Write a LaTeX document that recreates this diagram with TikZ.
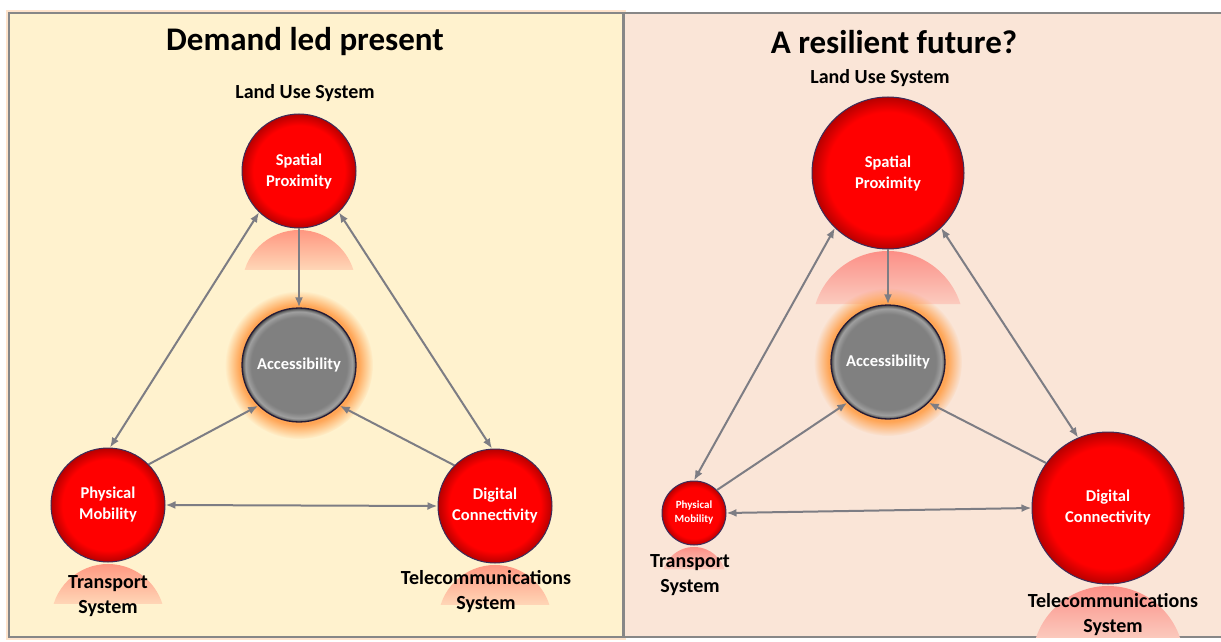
\documentclass[tikz,border=0pt]{standalone}
\usepackage{fontspec}
\setmainfont{Carlito}
\usetikzlibrary{arrows.meta, fadings}

\definecolor{creamL}{RGB}{255,242,206}
\definecolor{peachR}{RGB}{250,229,215}
\definecolor{frame}{RGB}{135,135,135}
\definecolor{linkgray}{RGB}{125,125,132}
\definecolor{rimblue}{RGB}{60,45,90}
\definecolor{ballgray}{RGB}{128,128,128}
\definecolor{glow}{RGB}{255,165,85}

\pgfdeclareradialshading{redball}{\pgfpoint{0bp}{0bp}}{color(0bp)=(red); color(20bp)=(red); color(25bp)=(red!72!black); color(50bp)=(red!72!black)}
\pgfdeclareradialshading{grayball}{\pgfpoint{0bp}{0bp}}{color(0bp)=(ballgray); color(21bp)=(ballgray); color(23.5bp)=(ballgray!75!white); color(25bp)=(ballgray!55!black); color(50bp)=(ballgray!55!black)}

\newcommand{\mirrorcap}[4]{%
  \path[top color=red!42!#4, bottom color=#4]
    (#1,#2) ++(162.54:#3) arc[start angle=162.54, end angle=17.46, radius=#3] -- cycle;}

\tikzset{
  hub/.style={circle, shading=redball, draw=rimblue, line width=1pt, text=white,
    align=center, inner sep=0pt, font=\fontsize{16.5}{21}\selectfont\bfseries},
  access/.style={circle, shading=grayball, draw=rimblue!60!black, line width=1.3pt,
    text=white, inner sep=0pt, minimum size=114pt, font=\fontsize{16.5}{21}\selectfont\bfseries},
  sysname/.style={align=center, font=\fontsize{20}{25}\selectfont\bfseries},
  paneltitle/.style={font=\fontsize{33}{40}\selectfont\bfseries},
  biarrow/.style={draw=linkgray, line width=2pt, {Latex[length=10pt,width=8pt]}-{Latex[length=10pt,width=8pt]}},
  uniarrow/.style={draw=linkgray, line width=2pt, -{Latex[length=10pt,width=8pt]}}
}

\begin{document}
\begin{tikzpicture}[x=1pt, y=1pt]
\useasboundingbox (0,0) rectangle (1221,641);

\draw[glow, line width=6pt, opacity=0.3] (9,4) rectangle (623,628);
\fill[creamL] (9,4) rectangle (623,628);
\fill[peachR] (624,4) rectangle (1225,628);
\draw[frame, line width=2pt] (9,4) rectangle (623,628);
\draw[frame, line width=2pt] (624,4) rectangle (1225,628);

% reflections
\mirrorcap{299}{354}{57}{creamL}
\mirrorcap{108}{20}{57}{creamL}
\mirrorcap{495}{19}{57}{creamL}
\mirrorcap{888}{314}{76}{peachR}
\mirrorcap{694}{62}{32}{peachR}
\begin{scope}
  \clip (624,4) rectangle (1225,628);
  \mirrorcap{1108}{-21}{76}{peachR}
\end{scope}

% halos
\fill[glow, path fading=circle with fuzzy edge 20 percent] (299,276) circle[radius=74];
\fill[glow, path fading=circle with fuzzy edge 20 percent] (888,279) circle[radius=74];

% present
\node[paneltitle] (ttlL) at (305,599) {Demand led present};
\node[sysname] (luL) at (305,548) {Land Use System};
\node[hub, minimum size=114pt] (spL) at (299,470) {Spatial\\Proximity};
\node[access] (acL) at (299,276) {Accessibility};
\node[hub, minimum size=114pt] (pmL) at (108,136) {Physical\\Mobility};
\node[hub, minimum size=114pt] (dcL) at (495,135) {Digital\\Connectivity};
\node[sysname] (tsL) at (108,45) {Transport\\System};
\node[sysname] (tcL) at (486,49) {Telecommunications\\System};

\draw[biarrow] (spL.-134) -- (pmL.88);
\draw[biarrow] (spL.-46) -- (dcL.93);
\draw[uniarrow] (spL.south) -- (acL.north);
\draw[uniarrow] (pmL.45) -- (acL.-135);
\draw[uniarrow] (dcL.135) -- (acL.-45);
\draw[biarrow] (pmL.east) -- (dcL.west);

% future
\node[paneltitle] (ttlR) at (894,599) {A resilient future?};
\node[sysname] (luR) at (880,563) {Land Use System};
\node[hub, minimum size=152pt] (spR) at (888,468) {Spatial\\Proximity};
\node[access] (acR) at (888,279) {Accessibility};
\node[hub, minimum size=64pt, font=\fontsize{11}{14}\selectfont\bfseries] (pmR) at (694,128) {Physical\\Mobility};
\node[hub, minimum size=152pt] (dcR) at (1108,133) {Digital\\Connectivity};
\node[sysname] (tsR) at (690,66) {Transport\\System};
\node[sysname] (tcR) at (1113,26) {Telecommunications\\System};

\draw[biarrow] (spR.-134) -- (pmR.north);
\draw[biarrow] (spR.-46) -- (dcR.113);
\draw[uniarrow] (spR.south) -- (acR.north);
\draw[uniarrow] (pmR.45) -- (acR.-135);
\draw[uniarrow] (dcR.144) -- (acR.-45);
\draw[biarrow] (pmR.east) -- (dcR.west);
\end{tikzpicture}
\end{document}
